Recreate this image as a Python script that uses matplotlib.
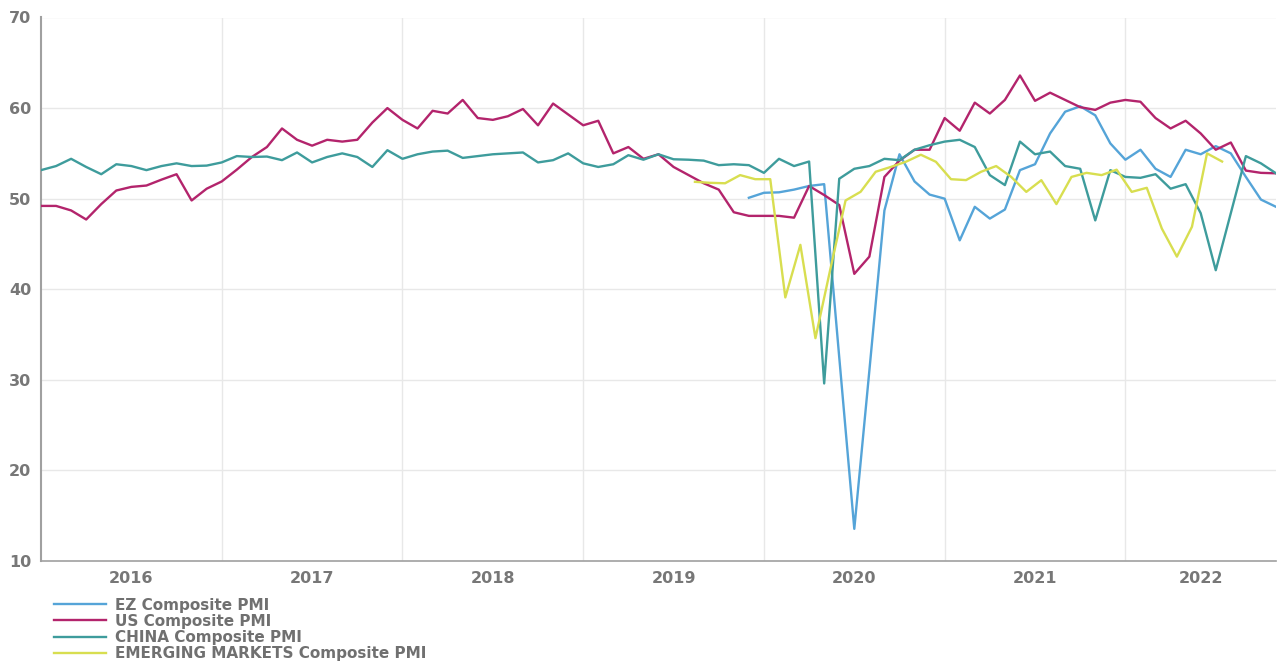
import numpy as np
import matplotlib
matplotlib.use("Agg")
import matplotlib.pyplot as plt

# monthly points, index 0 = first month shown
years = ["2016", "2017", "2018", "2019", "2020", "2021", "2022"]

us_pmi = [49.2, 49.2, 48.7, 47.7, 49.4, 50.9, 51.3, 51.45, 52.1, 52.7,
          49.8, 51.1, 51.9, 53.2, 54.6, 55.7, 57.75, 56.5, 55.85, 56.5,
          56.3, 56.5, 58.4, 60.0, 58.7, 57.75, 59.7, 59.4, 60.9, 58.9,
          58.7, 59.1, 59.9, 58.1, 60.5, 59.3, 58.1, 58.6, 55.0, 55.7,
          54.4, 54.9, 53.5, 52.6, 51.7, 51.0, 48.5, 48.1, 48.1, 48.1,
          47.9, 51.4, 50.4, 49.3, 41.7, 43.6, 52.4, 54.2, 55.4, 55.4,
          58.9, 57.5, 60.6, 59.4, 60.9, 63.6, 60.8, 61.7, 60.9, 60.1,
          59.8, 60.6, 60.9, 60.7, 58.9, 57.75, 58.6, 57.2, 55.4, 56.2,
          53.1, 52.85, 52.8]

china_pmi = [53.15, 53.6, 54.4, 53.5, 52.7, 53.8, 53.6, 53.15, 53.6, 53.9,
             53.6, 53.65, 54.0, 54.7, 54.6, 54.65, 54.25, 55.1, 54.0, 54.6,
             55.0, 54.6, 53.5, 55.35, 54.4, 54.9, 55.2, 55.3, 54.5, 54.7,
             54.9, 55.0, 55.1, 54.0, 54.25, 55.0, 53.9, 53.5, 53.8, 54.8,
             54.3, 54.9, 54.35, 54.3, 54.2, 53.7, 53.8, 53.7, 52.85, 54.4,
             53.6, 54.1, 29.6, 52.2, 53.3, 53.6, 54.4, 54.25, 55.4, 55.9,
             56.3, 56.5, 55.7, 52.6, 51.5, 56.3, 54.9, 55.2, 53.6, 53.3,
             47.6, 53.15, 52.4, 52.3, 52.7, 51.1, 51.6, 48.4, 42.1, 48.4,
             54.7, 53.9, 52.8]

# EZ series begins at month 47
ez_start = 47
ez_pmi = [50.1, 50.65, 50.7, 51.0, 51.4, 51.6, 32.5, 13.55, 31.0, 48.7,
          54.9, 51.9, 50.45, 50.0, 45.4, 49.1, 47.8, 48.8, 53.15, 53.8,
          57.2, 59.6, 60.2, 59.2, 56.1, 54.3, 55.4, 53.3, 52.4, 55.4,
          54.9, 55.8, 55.0, 52.4, 49.9, 49.1]

# emerging markets begins at month 44 (plotted a bit earlier in the month)
em_start = 44
em_pmi = [51.86, 51.75, 51.7, 52.6, 52.15, 52.15, 39.1, 44.9, 34.6, 42.3,
          49.8, 50.76, 52.97, 53.5, 54.07, 54.85, 54.07, 52.15, 52.05, 52.97,
          53.6, 52.4, 50.75, 52.04, 49.4, 52.4, 52.85, 52.6, 53.2, 50.75,
          51.2, 46.7, 43.6, 46.9, 55.0, 54.1]
EM_SHIFT = 0.58

months = np.arange(len(us_pmi))
ez_x = np.arange(ez_start, ez_start + len(ez_pmi))
em_x = np.arange(em_start, em_start + len(em_pmi)) - EM_SHIFT
last = months[-1]

fig = plt.figure(figsize=(12.77, 6.67), dpi=100)
ax = fig.add_axes([41 / 1277, 1 - 561 / 667, 1235 / 1277, (561 - 17.5) / 667])

ax.plot(ez_x, ez_pmi, color="#55a4d8", lw=1.7, label="EZ Composite PMI", zorder=3)
ax.plot(months, us_pmi, color="#b3246c", lw=1.7, label="US Composite PMI", zorder=3)
ax.plot(months, china_pmi, color="#3e9c9c", lw=1.7, label="CHINA Composite PMI", zorder=3)
ax.plot(em_x, em_pmi, color="#d8de50", lw=1.7, label="EMERGING MARKETS Composite PMI", zorder=3)

ax.set_xlim(0, last)
ax.set_ylim(10, 70)

# year labels centred in each 12-month block, grid at block edges
lab_pos = [(12 * k + min(12 * k + 12, last)) / 2 for k in range(len(years))]
ax.set_xticks(lab_pos)
ax.set_xticklabels(years)
ax.set_xticks(np.arange(12, last, 12), minor=True)
ax.set_yticks(np.arange(10, 71, 10))

ax.grid(axis="y", which="major", color="#e8e8e8", lw=1)
ax.grid(axis="x", which="minor", color="#e8e8e8", lw=1)
ax.grid(axis="x", which="major", visible=False)
ax.tick_params(which="both", length=0)
ax.tick_params(axis="x", pad=7)
ax.tick_params(axis="y", pad=7)
for lbl in ax.get_xticklabels() + ax.get_yticklabels():
    lbl.set_fontweight("bold")
    lbl.set_color("#777777")
    lbl.set_fontsize(11.5)

for side in ["top", "right"]:
    ax.spines[side].set_visible(False)
ax.spines["left"].set_color("#a0a0a0")
ax.spines["left"].set_linewidth(1.5)
ax.spines["bottom"].set_color("#a0a0a0")
ax.spines["bottom"].set_linewidth(1.2)

leg = fig.legend(loc="lower left", bbox_to_anchor=(40 / 1277, -0.012), frameon=False,
                 fontsize=11, handlelength=3.4, labelspacing=0.08, handletextpad=0.6)
for t in leg.get_texts():
    t.set_color("#707070")
    t.set_fontweight("bold")

fig.savefig("out.png", dpi=100)
